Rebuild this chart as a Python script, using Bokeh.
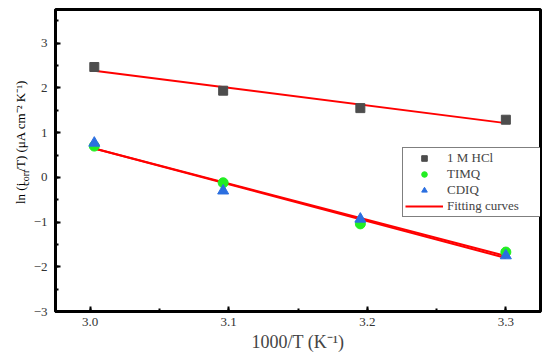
import numpy as np
from bokeh.plotting import figure
from bokeh.layouts import row
from bokeh.models import (Range1d, SingleIntervalTicker, PrintfTickFormatter, Legend,
                          LegendItem, Label)
from bokeh.embed import file_html
from bokeh.resources import INLINE

# ---- data ----
inv_T = [3.003, 3.096, 3.195, 3.300]          # 1000/T (K^-1)
hcl = [2.47, 1.94, 1.55, 1.29]                 # 1 M HCl
timq = [0.70, -0.12, -1.04, -1.67]             # TIMQ
cdiq = [0.77, -0.30, -0.93, -1.75]             # CDIQ
series_names = ["1 M HCl", "TIMQ", "CDIQ", "Fitting curves"]

FONT = "Liberation Serif"
H = 354
STRIP = 30

# ---- narrow strip holding the rotated y-axis title (with a real subscript) ----
lab = figure(width=STRIP, height=H, output_backend="svg", toolbar_location=None,
             x_range=Range1d(0, STRIP), y_range=Range1d(H, 0), min_border=0)
lab.axis.visible = False
lab.grid.visible = False
lab.outline_line_color = None
lab.background_fill_color = "white"
lab.border_fill_color = "white"
lab_kw = dict(angle=np.pi / 2, angle_units="rad", text_font=FONT,
              text_baseline="alphabetic", text_align="left", text_color="black")
lab.add_layout(Label(x=20, y=228, text="ln (i", text_font_size="13px", **lab_kw))
lab.add_layout(Label(x=24.5, y=206.5, text="corr", text_font_size="10px", **lab_kw))
lab.add_layout(Label(x=20, y=190, text="/T) (\u03bcA cm\u207b\u00b2 K\u207b\u00b9)",
                     text_font_size="13px", **lab_kw))

# ---- main plot ----
p = figure(width=550 - STRIP, height=H, output_backend="svg", toolbar_location=None,
           x_range=Range1d(2.975, 3.325), y_range=Range1d(-3, 3.756),
           min_border_left=50 - STRIP, min_border_right=10, min_border_top=9,
           min_border_bottom=41)

p.xgrid.visible = False
p.ygrid.visible = False
p.background_fill_color = "white"
p.border_fill_color = "white"
p.outline_line_color = "black"
p.outline_line_width = 3
p.outline_line_alpha = 1

p.xaxis.ticker = SingleIntervalTicker(interval=0.1, num_minor_ticks=2)
p.xaxis.formatter = PrintfTickFormatter(format="%.1f")
p.yaxis.ticker = SingleIntervalTicker(interval=1, num_minor_ticks=2)

for ax in (p.xaxis[0], p.yaxis[0]):
    ax.axis_line_width = 3
    ax.axis_line_color = "black"
    ax.major_tick_in = 5
    ax.major_tick_out = 0
    ax.major_tick_line_width = 2
    ax.minor_tick_in = 3
    ax.minor_tick_out = 0
    ax.minor_tick_line_width = 2
    ax.major_label_text_font = FONT
    ax.major_label_text_font_size = "13px"
    ax.major_label_text_color = "#333333"

p.yaxis.major_label_standoff = 8
p.xaxis.major_label_standoff = 6
p.xaxis.axis_label = "1000/T (K\u207b\u00b9)"
p.xaxis.axis_label_text_font = FONT
p.xaxis.axis_label_text_font_size = "18px"
p.xaxis.axis_label_text_font_style = "normal"
p.xaxis.axis_label_standoff = 3

# ---- linear fits ----
xs = np.array(inv_T)
fit_x = [xs.min(), xs.max()]
fits = []
for ys in (hcl, timq, cdiq):
    k, b = np.polyfit(xs, np.array(ys), 1)
    fits.append([k * fit_x[0] + b, k * fit_x[1] + b])

RED = "#ff0000"
f1 = p.line(fit_x, fits[0], line_color=RED, line_width=2)
p.line(fit_x, fits[1], line_color=RED, line_width=2)
p.line(fit_x, fits[2], line_color=RED, line_width=2)

r_hcl = p.scatter(inv_T, hcl, marker="square", size=9, fill_color="#4d4d4d", line_color="#4d4d4d")
r_timq = p.scatter(inv_T, timq, marker="circle", size=10, fill_color="#22ee22", line_color="#22ee22")
r_cdiq = p.scatter(inv_T, cdiq, marker="triangle", size=11, fill_color="#2b6fe0", line_color="#2b6fe0")

legend = Legend(items=[LegendItem(label=series_names[0], renderers=[r_hcl]),
                       LegendItem(label=series_names[1], renderers=[r_timq]),
                       LegendItem(label=series_names[2], renderers=[r_cdiq]),
                       LegendItem(label=series_names[3], renderers=[f1])],
                location=(347, 94), margin=0, padding=2, spacing=0,
                glyph_width=38, glyph_height=14, label_height=14, label_standoff=4,
                label_width=92,
                label_text_font=FONT, label_text_font_size="13px",
                border_line_color="black", border_line_width=1,
                background_fill_alpha=1)
p.add_layout(legend)

layout = row(lab, p)
open("out.html", "w").write(file_html(layout, INLINE))
